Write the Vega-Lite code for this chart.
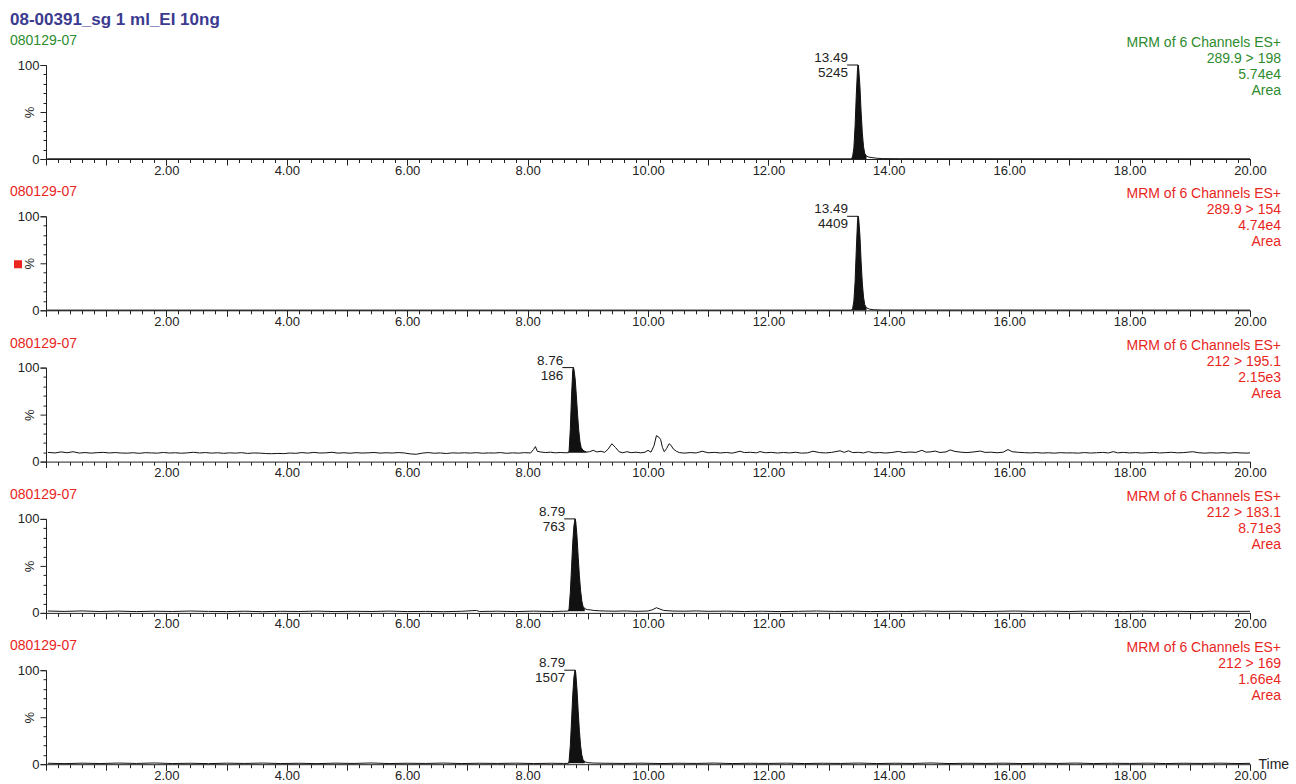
{
"$schema":"https://vega.github.io/schema/vega-lite/v6.json",
"padding":{"left":10,"top":11,"right":5,"bottom":5},
"title":{"text":"08-00391_sg 1 ml_EI 10ng","anchor":"start","color":"#3b3b8f","fontSize":17,"fontWeight":"bold","font":"Liberation Sans","offset":5},
"config":{"font":"Liberation Sans","view":{"stroke":null},
"axis":{"labelFont":"Liberation Sans","titleFont":"Liberation Sans","domainColor":"#222","tickColor":"#222","labelColor":"#222","titleColor":"#222","grid":false,"labelFontSize":13,"domainWidth":1,"tickWidth":1,"labelOverlap":false,"labelBound":false,"labelFlush":false},
"text":{"font":"Liberation Sans","fontSize":13,"color":"#222"}},
"datasets":{
"tr":[
{"p":1,"t":0.02,"v":0.2},{"p":1,"t":13.36,"v":0.2},{"p":1,"t":13.38,"v":0.3},{"p":1,"t":13.40,"v":3},{"p":1,"t":13.42,"v":12},{"p":1,"t":13.44,"v":35},{"p":1,"t":13.46,"v":68},{"p":1,"t":13.48,"v":95},{"p":1,"t":13.49,"v":100},{"p":1,"t":13.50,"v":96},{"p":1,"t":13.52,"v":78},{"p":1,"t":13.54,"v":50},{"p":1,"t":13.56,"v":28},{"p":1,"t":13.58,"v":13},{"p":1,"t":13.60,"v":6},{"p":1,"t":13.63,"v":3},{"p":1,"t":13.67,"v":2},{"p":1,"t":13.72,"v":1.5},{"p":1,"t":13.80,"v":0.8},{"p":1,"t":13.90,"v":0.4},{"p":1,"t":14.2,"v":0.3},{"p":1,"t":20.0,"v":0.2},
{"p":2,"t":0.02,"v":0.2},{"p":2,"t":13.38,"v":0.2},{"p":2,"t":13.40,"v":2},{"p":2,"t":13.42,"v":10},{"p":2,"t":13.44,"v":30},{"p":2,"t":13.46,"v":64},{"p":2,"t":13.48,"v":94},{"p":2,"t":13.49,"v":100},{"p":2,"t":13.50,"v":97},{"p":2,"t":13.52,"v":80},{"p":2,"t":13.54,"v":52},{"p":2,"t":13.56,"v":29},{"p":2,"t":13.58,"v":14},{"p":2,"t":13.60,"v":6},{"p":2,"t":13.63,"v":2.5},{"p":2,"t":13.68,"v":1.2},{"p":2,"t":13.75,"v":0.6},{"p":2,"t":13.9,"v":0.3},{"p":2,"t":20.0,"v":0.2},
{"p":3,"t":0.03,"v":9.8},{"p":3,"t":0.15,"v":9.2},{"p":3,"t":0.25,"v":10.3},{"p":3,"t":0.35,"v":9.4},{"p":3,"t":0.45,"v":10.5},{"p":3,"t":0.55,"v":9.1},{"p":3,"t":0.65,"v":9.6},{"p":3,"t":0.75,"v":9.0},{"p":3,"t":0.85,"v":9.5},{"p":3,"t":0.95,"v":9.8},{"p":3,"t":1.05,"v":9.2},{"p":3,"t":1.15,"v":9.6},{"p":3,"t":1.25,"v":9.1},{"p":3,"t":1.35,"v":9.0},{"p":3,"t":1.45,"v":9.4},{"p":3,"t":1.55,"v":8.8},{"p":3,"t":1.65,"v":9.5},{"p":3,"t":1.75,"v":9.2},{"p":3,"t":1.85,"v":9.0},{"p":3,"t":1.95,"v":9.7},{"p":3,"t":2.05,"v":9.1},{"p":3,"t":2.15,"v":9.4},{"p":3,"t":2.25,"v":8.9},{"p":3,"t":2.35,"v":9.3},{"p":3,"t":2.45,"v":9.9},{"p":3,"t":2.55,"v":9.2},{"p":3,"t":2.65,"v":9.6},{"p":3,"t":2.75,"v":9.0},{"p":3,"t":2.85,"v":9.4},{"p":3,"t":2.95,"v":8.8},{"p":3,"t":3.05,"v":9.3},{"p":3,"t":3.15,"v":9.0},{"p":3,"t":3.25,"v":9.5},{"p":3,"t":3.35,"v":8.7},{"p":3,"t":3.45,"v":9.2},{"p":3,"t":3.55,"v":9.0},{"p":3,"t":3.65,"v":8.6},{"p":3,"t":3.75,"v":8.4},{"p":3,"t":3.85,"v":8.7},{"p":3,"t":3.95,"v":8.5},{"p":3,"t":4.05,"v":9.1},{"p":3,"t":4.15,"v":8.8},{"p":3,"t":4.25,"v":9.6},{"p":3,"t":4.35,"v":9.0},{"p":3,"t":4.45,"v":9.8},{"p":3,"t":4.55,"v":9.1},{"p":3,"t":4.65,"v":9.3},{"p":3,"t":4.75,"v":9.9},{"p":3,"t":4.85,"v":9.0},{"p":3,"t":4.95,"v":9.4},{"p":3,"t":5.05,"v":8.9},{"p":3,"t":5.15,"v":9.5},{"p":3,"t":5.25,"v":9.1},{"p":3,"t":5.35,"v":9.3},{"p":3,"t":5.45,"v":9.7},{"p":3,"t":5.55,"v":9.0},{"p":3,"t":5.65,"v":9.4},{"p":3,"t":5.75,"v":9.1},{"p":3,"t":5.85,"v":9.6},{"p":3,"t":5.95,"v":9.2},{"p":3,"t":6.05,"v":8.2},{"p":3,"t":6.15,"v":7.8},{"p":3,"t":6.25,"v":9.0},{"p":3,"t":6.35,"v":9.6},{"p":3,"t":6.45,"v":8.9},{"p":3,"t":6.55,"v":9.2},{"p":3,"t":6.65,"v":8.6},{"p":3,"t":6.75,"v":9.3},{"p":3,"t":6.85,"v":9.0},{"p":3,"t":6.95,"v":9.4},{"p":3,"t":7.05,"v":9.0},{"p":3,"t":7.15,"v":9.5},{"p":3,"t":7.25,"v":8.9},{"p":3,"t":7.35,"v":9.2},{"p":3,"t":7.45,"v":9.1},{"p":3,"t":7.55,"v":9.6},{"p":3,"t":7.65,"v":8.8},{"p":3,"t":7.75,"v":9.3},{"p":3,"t":7.85,"v":9.0},{"p":3,"t":7.95,"v":9.5},{"p":3,"t":8.05,"v":9.2},{"p":3,"t":8.10,"v":13.0},{"p":3,"t":8.13,"v":16.0},{"p":3,"t":8.16,"v":11.0},{"p":3,"t":8.22,"v":10.2},{"p":3,"t":8.30,"v":9.6},{"p":3,"t":8.38,"v":10.0},{"p":3,"t":8.46,"v":9.3},{"p":3,"t":8.54,"v":9.7},{"p":3,"t":8.62,"v":9.4},{"p":3,"t":8.68,"v":9.5},{"p":3,"t":8.69,"v":12},{"p":3,"t":8.71,"v":35},{"p":3,"t":8.73,"v":70},{"p":3,"t":8.75,"v":97},{"p":3,"t":8.76,"v":100},{"p":3,"t":8.77,"v":98},{"p":3,"t":8.79,"v":88},{"p":3,"t":8.81,"v":70},{"p":3,"t":8.83,"v":50},{"p":3,"t":8.85,"v":33},{"p":3,"t":8.87,"v":21},{"p":3,"t":8.89,"v":15},{"p":3,"t":8.92,"v":12},{"p":3,"t":8.95,"v":11},{"p":3,"t":8.98,"v":10.2},{"p":3,"t":9.03,"v":10.5},{"p":3,"t":9.09,"v":12.0},{"p":3,"t":9.15,"v":10.3},{"p":3,"t":9.22,"v":11.0},{"p":3,"t":9.28,"v":9.8},{"p":3,"t":9.34,"v":13.5},{"p":3,"t":9.40,"v":19.0},{"p":3,"t":9.46,"v":15.0},{"p":3,"t":9.52,"v":10.5},{"p":3,"t":9.58,"v":9.4},{"p":3,"t":9.65,"v":10.5},{"p":3,"t":9.72,"v":9.5},{"p":3,"t":9.80,"v":10.0},{"p":3,"t":9.88,"v":9.3},{"p":3,"t":9.95,"v":10.0},{"p":3,"t":10.00,"v":12.0},{"p":3,"t":10.05,"v":10.0},{"p":3,"t":10.10,"v":17.0},{"p":3,"t":10.14,"v":27.6},{"p":3,"t":10.18,"v":26.0},{"p":3,"t":10.21,"v":23.5},{"p":3,"t":10.24,"v":15.0},{"p":3,"t":10.27,"v":10.5},{"p":3,"t":10.31,"v":14.0},{"p":3,"t":10.35,"v":19.0},{"p":3,"t":10.38,"v":17.5},{"p":3,"t":10.42,"v":13.5},{"p":3,"t":10.47,"v":11.0},{"p":3,"t":10.52,"v":9.6},{"p":3,"t":10.60,"v":9.0},{"p":3,"t":10.70,"v":9.6},{"p":3,"t":10.80,"v":9.2},{"p":3,"t":10.90,"v":11.0},{"p":3,"t":11.00,"v":9.4},{"p":3,"t":11.10,"v":9.8},{"p":3,"t":11.20,"v":9.2},{"p":3,"t":11.30,"v":9.7},{"p":3,"t":11.40,"v":9.0},{"p":3,"t":11.53,"v":11.0},{"p":3,"t":11.60,"v":9.6},{"p":3,"t":11.70,"v":9.9},{"p":3,"t":11.80,"v":9.3},{"p":3,"t":11.86,"v":10.6},{"p":3,"t":11.95,"v":9.4},{"p":3,"t":12.05,"v":9.8},{"p":3,"t":12.15,"v":9.1},{"p":3,"t":12.25,"v":9.7},{"p":3,"t":12.35,"v":9.2},{"p":3,"t":12.45,"v":9.9},{"p":3,"t":12.55,"v":9.0},{"p":3,"t":12.65,"v":9.3},{"p":3,"t":12.74,"v":11.0},{"p":3,"t":12.85,"v":9.6},{"p":3,"t":12.95,"v":9.2},{"p":3,"t":13.05,"v":9.8},{"p":3,"t":13.19,"v":11.5},{"p":3,"t":13.26,"v":9.8},{"p":3,"t":13.33,"v":11.5},{"p":3,"t":13.40,"v":9.6},{"p":3,"t":13.50,"v":9.9},{"p":3,"t":13.58,"v":9.2},{"p":3,"t":13.66,"v":10.6},{"p":3,"t":13.75,"v":9.3},{"p":3,"t":13.85,"v":9.6},{"p":3,"t":13.95,"v":9.1},{"p":3,"t":14.05,"v":9.7},{"p":3,"t":14.16,"v":10.8},{"p":3,"t":14.25,"v":9.6},{"p":3,"t":14.35,"v":10.2},{"p":3,"t":14.45,"v":9.8},{"p":3,"t":14.55,"v":12.0},{"p":3,"t":14.62,"v":10.0},{"p":3,"t":14.70,"v":10.4},{"p":3,"t":14.77,"v":11.2},{"p":3,"t":14.85,"v":9.7},{"p":3,"t":14.95,"v":10.3},{"p":3,"t":15.02,"v":12.4},{"p":3,"t":15.10,"v":10.8},{"p":3,"t":15.20,"v":10.0},{"p":3,"t":15.30,"v":9.6},{"p":3,"t":15.40,"v":10.2},{"p":3,"t":15.52,"v":11.2},{"p":3,"t":15.60,"v":9.8},{"p":3,"t":15.70,"v":10.0},{"p":3,"t":15.80,"v":9.4},{"p":3,"t":15.90,"v":10.0},{"p":3,"t":15.98,"v":12.8},{"p":3,"t":16.05,"v":10.5},{"p":3,"t":16.15,"v":9.9},{"p":3,"t":16.25,"v":9.5},{"p":3,"t":16.35,"v":9.2},{"p":3,"t":16.45,"v":9.6},{"p":3,"t":16.55,"v":9.1},{"p":3,"t":16.65,"v":9.4},{"p":3,"t":16.75,"v":9.0},{"p":3,"t":16.85,"v":9.5},{"p":3,"t":16.95,"v":9.2},{"p":3,"t":17.05,"v":9.3},{"p":3,"t":17.15,"v":9.0},{"p":3,"t":17.25,"v":9.6},{"p":3,"t":17.35,"v":9.1},{"p":3,"t":17.45,"v":9.4},{"p":3,"t":17.55,"v":9.8},{"p":3,"t":17.65,"v":9.2},{"p":3,"t":17.73,"v":10.6},{"p":3,"t":17.80,"v":9.3},{"p":3,"t":17.90,"v":9.8},{"p":3,"t":18.00,"v":9.2},{"p":3,"t":18.10,"v":9.6},{"p":3,"t":18.20,"v":9.1},{"p":3,"t":18.30,"v":9.4},{"p":3,"t":18.40,"v":9.8},{"p":3,"t":18.50,"v":9.2},{"p":3,"t":18.60,"v":9.5},{"p":3,"t":18.70,"v":9.9},{"p":3,"t":18.80,"v":9.3},{"p":3,"t":18.90,"v":9.6},{"p":3,"t":19.05,"v":10.5},{"p":3,"t":19.15,"v":9.4},{"p":3,"t":19.25,"v":9.0},{"p":3,"t":19.35,"v":9.4},{"p":3,"t":19.45,"v":9.1},{"p":3,"t":19.55,"v":9.5},{"p":3,"t":19.65,"v":9.0},{"p":3,"t":19.75,"v":9.6},{"p":3,"t":19.85,"v":9.2},{"p":3,"t":19.95,"v":9.0},{"p":3,"t":20.0,"v":9.3},
{"p":4,"t":0.03,"v":2.0},{"p":4,"t":0.3,"v":1.6},{"p":4,"t":0.6,"v":2.1},{"p":4,"t":0.9,"v":1.5},{"p":4,"t":1.2,"v":1.9},{"p":4,"t":1.5,"v":1.4},{"p":4,"t":1.8,"v":1.8},{"p":4,"t":2.1,"v":1.5},{"p":4,"t":2.4,"v":2.0},{"p":4,"t":2.7,"v":1.6},{"p":4,"t":3.0,"v":1.4},{"p":4,"t":3.3,"v":1.8},{"p":4,"t":3.6,"v":1.3},{"p":4,"t":3.9,"v":1.7},{"p":4,"t":4.2,"v":1.5},{"p":4,"t":4.5,"v":1.9},{"p":4,"t":4.8,"v":1.4},{"p":4,"t":5.1,"v":1.7},{"p":4,"t":5.4,"v":1.5},{"p":4,"t":5.7,"v":1.9},{"p":4,"t":6.0,"v":1.4},{"p":4,"t":6.3,"v":1.6},{"p":4,"t":6.6,"v":1.3},{"p":4,"t":6.9,"v":1.7},{"p":4,"t":7.15,"v":2.6},{"p":4,"t":7.2,"v":1.5},{"p":4,"t":7.5,"v":1.8},{"p":4,"t":7.8,"v":1.4},{"p":4,"t":8.1,"v":1.9},{"p":4,"t":8.4,"v":1.5},{"p":4,"t":8.6,"v":1.8},{"p":4,"t":8.68,"v":2.0},{"p":4,"t":8.69,"v":5},{"p":4,"t":8.71,"v":22},{"p":4,"t":8.73,"v":48},{"p":4,"t":8.75,"v":75},{"p":4,"t":8.77,"v":93},{"p":4,"t":8.79,"v":100},{"p":4,"t":8.80,"v":97},{"p":4,"t":8.82,"v":82},{"p":4,"t":8.84,"v":60},{"p":4,"t":8.86,"v":40},{"p":4,"t":8.88,"v":24},{"p":4,"t":8.90,"v":13},{"p":4,"t":8.92,"v":7},{"p":4,"t":8.95,"v":4.5},{"p":4,"t":8.99,"v":3.5},{"p":4,"t":9.04,"v":3.2},{"p":4,"t":9.10,"v":2.6},{"p":4,"t":9.2,"v":2.2},{"p":4,"t":9.3,"v":2.0},{"p":4,"t":9.45,"v":1.8},{"p":4,"t":9.6,"v":2.1},{"p":4,"t":9.8,"v":1.7},{"p":4,"t":10.0,"v":2.0},{"p":4,"t":10.08,"v":3.5},{"p":4,"t":10.14,"v":5.5},{"p":4,"t":10.20,"v":4.0},{"p":4,"t":10.26,"v":2.6},{"p":4,"t":10.4,"v":2.0},{"p":4,"t":10.6,"v":1.8},{"p":4,"t":10.8,"v":2.1},{"p":4,"t":11.0,"v":1.7},{"p":4,"t":11.3,"v":1.9},{"p":4,"t":11.6,"v":1.5},{"p":4,"t":11.9,"v":1.8},{"p":4,"t":12.2,"v":1.4},{"p":4,"t":12.5,"v":1.7},{"p":4,"t":12.8,"v":2.0},{"p":4,"t":13.1,"v":1.6},{"p":4,"t":13.4,"v":1.8},{"p":4,"t":13.7,"v":1.4},{"p":4,"t":14.0,"v":1.7},{"p":4,"t":14.3,"v":1.5},{"p":4,"t":14.6,"v":1.9},{"p":4,"t":14.9,"v":1.6},{"p":4,"t":15.2,"v":1.8},{"p":4,"t":15.5,"v":1.4},{"p":4,"t":15.8,"v":1.7},{"p":4,"t":16.1,"v":2.0},{"p":4,"t":16.4,"v":1.6},{"p":4,"t":16.7,"v":1.8},{"p":4,"t":17.0,"v":1.5},{"p":4,"t":17.3,"v":1.9},{"p":4,"t":17.6,"v":1.6},{"p":4,"t":17.9,"v":1.4},{"p":4,"t":18.2,"v":1.8},{"p":4,"t":18.5,"v":1.5},{"p":4,"t":18.8,"v":1.7},{"p":4,"t":19.1,"v":1.4},{"p":4,"t":19.4,"v":1.8},{"p":4,"t":19.7,"v":1.6},{"p":4,"t":20.0,"v":1.7},
{"p":5,"t":0.03,"v":1.0},{"p":5,"t":0.3,"v":0.6},{"p":5,"t":0.6,"v":1.1},{"p":5,"t":0.9,"v":0.7},{"p":5,"t":1.2,"v":1.2},{"p":5,"t":1.5,"v":0.8},{"p":5,"t":1.8,"v":1.3},{"p":5,"t":2.1,"v":0.7},{"p":5,"t":2.4,"v":1.0},{"p":5,"t":2.7,"v":0.6},{"p":5,"t":3.0,"v":1.1},{"p":5,"t":3.3,"v":0.8},{"p":5,"t":3.6,"v":1.2},{"p":5,"t":3.9,"v":0.7},{"p":5,"t":4.2,"v":1.0},{"p":5,"t":4.5,"v":0.6},{"p":5,"t":4.8,"v":1.1},{"p":5,"t":5.1,"v":0.8},{"p":5,"t":5.4,"v":1.3},{"p":5,"t":5.7,"v":0.7},{"p":5,"t":6.0,"v":1.0},{"p":5,"t":6.3,"v":0.8},{"p":5,"t":6.6,"v":1.2},{"p":5,"t":6.9,"v":0.7},{"p":5,"t":7.2,"v":1.0},{"p":5,"t":7.5,"v":0.8},{"p":5,"t":7.8,"v":1.1},{"p":5,"t":8.1,"v":0.7},{"p":5,"t":8.4,"v":1.0},{"p":5,"t":8.6,"v":0.8},{"p":5,"t":8.68,"v":0.9},{"p":5,"t":8.69,"v":4},{"p":5,"t":8.71,"v":20},{"p":5,"t":8.73,"v":46},{"p":5,"t":8.75,"v":74},{"p":5,"t":8.77,"v":93},{"p":5,"t":8.79,"v":100},{"p":5,"t":8.80,"v":97},{"p":5,"t":8.82,"v":80},{"p":5,"t":8.84,"v":57},{"p":5,"t":8.86,"v":36},{"p":5,"t":8.88,"v":20},{"p":5,"t":8.90,"v":10},{"p":5,"t":8.92,"v":5},{"p":5,"t":8.95,"v":2.5},{"p":5,"t":9.0,"v":1.6},{"p":5,"t":9.1,"v":1.2},{"p":5,"t":9.3,"v":1.0},{"p":5,"t":9.6,"v":0.8},{"p":5,"t":9.9,"v":1.1},{"p":5,"t":10.2,"v":0.7},{"p":5,"t":10.5,"v":1.0},{"p":5,"t":10.8,"v":0.8},{"p":5,"t":11.1,"v":1.2},{"p":5,"t":11.4,"v":0.7},{"p":5,"t":11.7,"v":1.0},{"p":5,"t":12.0,"v":0.8},{"p":5,"t":12.3,"v":1.1},{"p":5,"t":12.6,"v":0.7},{"p":5,"t":12.9,"v":1.0},{"p":5,"t":13.2,"v":0.8},{"p":5,"t":13.5,"v":1.2},{"p":5,"t":13.8,"v":0.7},{"p":5,"t":14.1,"v":1.0},{"p":5,"t":14.4,"v":0.8},{"p":5,"t":14.7,"v":1.3},{"p":5,"t":15.0,"v":0.7},{"p":5,"t":15.3,"v":1.0},{"p":5,"t":15.6,"v":0.8},{"p":5,"t":15.9,"v":1.1},{"p":5,"t":16.2,"v":0.7},{"p":5,"t":16.5,"v":1.0},{"p":5,"t":16.8,"v":0.8},{"p":5,"t":17.1,"v":1.2},{"p":5,"t":17.4,"v":0.7},{"p":5,"t":17.7,"v":1.0},{"p":5,"t":18.0,"v":0.8},{"p":5,"t":18.3,"v":1.1},{"p":5,"t":18.6,"v":0.7},{"p":5,"t":18.9,"v":1.0},{"p":5,"t":19.2,"v":0.8},{"p":5,"t":19.5,"v":1.1},{"p":5,"t":19.8,"v":0.7},{"p":5,"t":20.0,"v":0.9}
],
"pk":[
{"p":1,"t":13.49,"v":100,"rt":"13.49","h":"5245"},
{"p":2,"t":13.49,"v":100,"rt":"13.49","h":"4409"},
{"p":3,"t":8.76,"v":100,"rt":"8.76","h":"186"},
{"p":4,"t":8.79,"v":100,"rt":"8.79","h":"763"},
{"p":5,"t":8.79,"v":100,"rt":"8.79","h":"1507"}
],
"info":[
{"p":1,"id":"080129-07","r":["MRM of 6 Channels ES+","289.9 > 198","5.74e4","Area"]},
{"p":2,"id":"080129-07","r":["MRM of 6 Channels ES+","289.9 > 154","4.74e4","Area"]},
{"p":3,"id":"080129-07","r":["MRM of 6 Channels ES+","212 > 195.1","2.15e3","Area"]},
{"p":4,"id":"080129-07","r":["MRM of 6 Channels ES+","212 > 183.1","8.71e3","Area"]},
{"p":5,"id":"080129-07","r":["MRM of 6 Channels ES+","212 > 169","1.66e4","Area"]}
]
},
"spacing":57.3,
"bounds":"flush",
"vconcat":[
{"width":1204,"height":94,"resolve":{"axis":{"x":"independent","y":"independent"}},"layer":[
{"data":{"name":"tr"},"transform":[{"filter":"datum.p==1"}],"mark":{"type":"line","color":"#111","strokeWidth":1},
"encoding":{"x":{"field":"t","type":"quantitative","scale":{"domain":[0,20],"nice":false,"zero":false},"axis":{"orient":"bottom","title":null,"values":[2,4,6,8,10,12,14,16,18,20],"tickSize":6,"labelExpr":"format(datum.value, '.2f')","labelPadding":-1}},
"y":{"field":"v","type":"quantitative","scale":{"domain":[0,100],"nice":false},"axis":{"orient":"left","title":"%","titleFontSize":13,"titleFontWeight":"normal","titleX":-10,"titleY":47,"values":[0,100],"tickSize":6,"labelPadding":1}}}},
{"data":{"name":"tr"},"transform":[{"filter":"datum.p==1"},{"filter":{"field":"t","range":[13.38,13.63]}}],"mark":{"type":"area","color":"#111"},"encoding":{"x":{"field":"t","type":"quantitative","axis":{"orient":"bottom","title":null,"labels":false,"domain":false,"values":[0,0.2,0.4,0.6,0.8,1,1.2,1.4,1.6,1.8,2,2.2,2.4,2.6,2.8,3,3.2,3.4,3.6,3.8,4,4.2,4.4,4.6,4.8,5,5.2,5.4,5.6,5.8,6,6.2,6.4,6.6,6.8,7,7.2,7.4,7.6,7.8,8,8.2,8.4,8.6,8.8,9,9.2,9.4,9.6,9.8,10,10.2,10.4,10.6,10.8,11,11.2,11.4,11.6,11.8,12,12.2,12.4,12.6,12.8,13,13.2,13.4,13.6,13.8,14,14.2,14.4,14.6,14.8,15,15.2,15.4,15.6,15.8,16,16.2,16.4,16.6,16.8,17,17.2,17.4,17.6,17.8,18,18.2,18.4,18.6,18.8,19,19.2,19.4,19.6,19.8,20],"tickSize":{"condition":{"test":"datum.value % 1 === 0","value":6},"value":3.5}}},"y":{"field":"v","type":"quantitative","axis":{"orient":"left","title":null,"labels":false,"domain":false,"values":[0,10,20,30,40,50,60,70,80,90,100],"tickSize":{"condition":{"test":"datum.value % 50 === 0","value":6},"value":3}}},"y2":{"datum":0}}},
{"data":{"name":"pk"},"transform":[{"filter":"datum.p==1"}],"mark":{"type":"rule","color":"#111","strokeWidth":1,"xOffset":-11},"encoding":{"x":{"field":"t","type":"quantitative","axis":null},"x2":{"field":"t"},"y":{"field":"v","type":"quantitative","axis":null}}},
{"data":{"name":"pk"},"transform":[{"filter":"datum.p==1"}],"mark":{"type":"rule","color":"#111","strokeWidth":1,"y2Offset":7},"encoding":{"x":{"field":"t","type":"quantitative","axis":null},"y":{"field":"v","type":"quantitative","axis":null},"y2":{"field":"v"}}},
{"data":{"name":"pk"},"transform":[{"filter":"datum.p==1"}],"mark":{"type":"text","align":"right","baseline":"middle","dx":-10,"dy":-7,"fontSize":13.5},"encoding":{"x":{"field":"t","type":"quantitative","axis":null},"y":{"field":"v","type":"quantitative","axis":null},"text":{"field":"rt"}}},
{"data":{"name":"pk"},"transform":[{"filter":"datum.p==1"}],"mark":{"type":"text","align":"right","baseline":"middle","dx":-10,"dy":8,"fontSize":13.5},"encoding":{"x":{"field":"t","type":"quantitative","axis":null},"y":{"field":"v","type":"quantitative","axis":null},"text":{"field":"h"}}},
{"data":{"name":"info"},"transform":[{"filter":"datum.p==1"}],"mark":{"type":"text","align":"left","baseline":"middle","dx":-36,"dy":-24,"fontSize":14,"color":"#2e8b2e"},"encoding":{"x":{"datum":0,"axis":null},"y":{"datum":100,"axis":null},"text":{"field":"id"}}},
{"data":{"name":"info"},"transform":[{"filter":"datum.p==1"}],"mark":{"type":"text","align":"right","baseline":"top","dx":31,"dy":-29,"fontSize":14,"lineHeight":16,"color":"#2e8b2e"},"encoding":{"x":{"datum":20,"axis":null},"y":{"datum":100,"axis":null},"text":{"field":"r"}}}
]},
{"width":1204,"height":94,"resolve":{"axis":{"x":"independent","y":"independent"}},"layer":[
{"data":{"name":"tr"},"transform":[{"filter":"datum.p==2"}],"mark":{"type":"line","color":"#111","strokeWidth":1},
"encoding":{"x":{"field":"t","type":"quantitative","scale":{"domain":[0,20],"nice":false,"zero":false},"axis":{"orient":"bottom","title":null,"values":[2,4,6,8,10,12,14,16,18,20],"tickSize":6,"labelExpr":"format(datum.value, '.2f')","labelPadding":-1}},
"y":{"field":"v","type":"quantitative","scale":{"domain":[0,100],"nice":false},"axis":{"orient":"left","title":"%","titleFontSize":13,"titleFontWeight":"normal","titleX":-10,"titleY":47,"values":[0,100],"tickSize":6,"labelPadding":1}}}},
{"data":{"name":"tr"},"transform":[{"filter":"datum.p==2"},{"filter":{"field":"t","range":[13.38,13.63]}}],"mark":{"type":"area","color":"#111"},"encoding":{"x":{"field":"t","type":"quantitative","axis":{"orient":"bottom","title":null,"labels":false,"domain":false,"values":[0,0.2,0.4,0.6,0.8,1,1.2,1.4,1.6,1.8,2,2.2,2.4,2.6,2.8,3,3.2,3.4,3.6,3.8,4,4.2,4.4,4.6,4.8,5,5.2,5.4,5.6,5.8,6,6.2,6.4,6.6,6.8,7,7.2,7.4,7.6,7.8,8,8.2,8.4,8.6,8.8,9,9.2,9.4,9.6,9.8,10,10.2,10.4,10.6,10.8,11,11.2,11.4,11.6,11.8,12,12.2,12.4,12.6,12.8,13,13.2,13.4,13.6,13.8,14,14.2,14.4,14.6,14.8,15,15.2,15.4,15.6,15.8,16,16.2,16.4,16.6,16.8,17,17.2,17.4,17.6,17.8,18,18.2,18.4,18.6,18.8,19,19.2,19.4,19.6,19.8,20],"tickSize":{"condition":{"test":"datum.value % 1 === 0","value":6},"value":3.5}}},"y":{"field":"v","type":"quantitative","axis":{"orient":"left","title":null,"labels":false,"domain":false,"values":[0,10,20,30,40,50,60,70,80,90,100],"tickSize":{"condition":{"test":"datum.value % 50 === 0","value":6},"value":3}}},"y2":{"datum":0}}},
{"data":{"name":"pk"},"transform":[{"filter":"datum.p==2"}],"mark":{"type":"rule","color":"#111","strokeWidth":1,"xOffset":-11},"encoding":{"x":{"field":"t","type":"quantitative","axis":null},"x2":{"field":"t"},"y":{"field":"v","type":"quantitative","axis":null}}},
{"data":{"name":"pk"},"transform":[{"filter":"datum.p==2"}],"mark":{"type":"rule","color":"#111","strokeWidth":1,"y2Offset":7},"encoding":{"x":{"field":"t","type":"quantitative","axis":null},"y":{"field":"v","type":"quantitative","axis":null},"y2":{"field":"v"}}},
{"data":{"name":"pk"},"transform":[{"filter":"datum.p==2"}],"mark":{"type":"text","align":"right","baseline":"middle","dx":-10,"dy":-7,"fontSize":13.5},"encoding":{"x":{"field":"t","type":"quantitative","axis":null},"y":{"field":"v","type":"quantitative","axis":null},"text":{"field":"rt"}}},
{"data":{"name":"pk"},"transform":[{"filter":"datum.p==2"}],"mark":{"type":"text","align":"right","baseline":"middle","dx":-10,"dy":8,"fontSize":13.5},"encoding":{"x":{"field":"t","type":"quantitative","axis":null},"y":{"field":"v","type":"quantitative","axis":null},"text":{"field":"h"}}},
{"data":{"name":"info"},"transform":[{"filter":"datum.p==2"}],"mark":{"type":"text","align":"left","baseline":"middle","dx":-36,"dy":-24,"fontSize":14,"color":"#e8261e"},"encoding":{"x":{"datum":0,"axis":null},"y":{"datum":100,"axis":null},"text":{"field":"id"}}},
{"data":{"name":"info"},"transform":[{"filter":"datum.p==2"}],"mark":{"type":"text","align":"right","baseline":"top","dx":31,"dy":-29,"fontSize":14,"lineHeight":16,"color":"#e8261e"},"encoding":{"x":{"datum":20,"axis":null},"y":{"datum":100,"axis":null},"text":{"field":"r"}}},
{"data":{"name":"info"},"transform":[{"filter":"datum.p==2"}],"mark":{"type":"point","shape":"square","filled":true,"size":64,"color":"#e8261e","opacity":1},"encoding":{"x":{"datum":-0.465,"axis":null},"y":{"datum":49,"axis":null}}}
]},
{"width":1204,"height":94,"resolve":{"axis":{"x":"independent","y":"independent"}},"layer":[
{"data":{"name":"tr"},"transform":[{"filter":"datum.p==3"}],"mark":{"type":"line","color":"#111","strokeWidth":1},
"encoding":{"x":{"field":"t","type":"quantitative","scale":{"domain":[0,20],"nice":false,"zero":false},"axis":{"orient":"bottom","title":null,"values":[2,4,6,8,10,12,14,16,18,20],"tickSize":6,"labelExpr":"format(datum.value, '.2f')","labelPadding":-1}},
"y":{"field":"v","type":"quantitative","scale":{"domain":[0,100],"nice":false},"axis":{"orient":"left","title":"%","titleFontSize":13,"titleFontWeight":"normal","titleX":-10,"titleY":47,"values":[0,100],"tickSize":6,"labelPadding":1}}}},
{"data":{"name":"tr"},"transform":[{"filter":"datum.p==3"},{"filter":{"field":"t","range":[8.68,8.98]}}],"mark":{"type":"area","color":"#111"},"encoding":{"x":{"field":"t","type":"quantitative","axis":{"orient":"bottom","title":null,"labels":false,"domain":false,"values":[0,0.2,0.4,0.6,0.8,1,1.2,1.4,1.6,1.8,2,2.2,2.4,2.6,2.8,3,3.2,3.4,3.6,3.8,4,4.2,4.4,4.6,4.8,5,5.2,5.4,5.6,5.8,6,6.2,6.4,6.6,6.8,7,7.2,7.4,7.6,7.8,8,8.2,8.4,8.6,8.8,9,9.2,9.4,9.6,9.8,10,10.2,10.4,10.6,10.8,11,11.2,11.4,11.6,11.8,12,12.2,12.4,12.6,12.8,13,13.2,13.4,13.6,13.8,14,14.2,14.4,14.6,14.8,15,15.2,15.4,15.6,15.8,16,16.2,16.4,16.6,16.8,17,17.2,17.4,17.6,17.8,18,18.2,18.4,18.6,18.8,19,19.2,19.4,19.6,19.8,20],"tickSize":{"condition":{"test":"datum.value % 1 === 0","value":6},"value":3.5}}},"y":{"field":"v","type":"quantitative","axis":{"orient":"left","title":null,"labels":false,"domain":false,"values":[0,10,20,30,40,50,60,70,80,90,100],"tickSize":{"condition":{"test":"datum.value % 50 === 0","value":6},"value":3}}},"y2":{"datum":9.4}}},
{"data":{"name":"pk"},"transform":[{"filter":"datum.p==3"}],"mark":{"type":"rule","color":"#111","strokeWidth":1,"xOffset":-11},"encoding":{"x":{"field":"t","type":"quantitative","axis":null},"x2":{"field":"t"},"y":{"field":"v","type":"quantitative","axis":null}}},
{"data":{"name":"pk"},"transform":[{"filter":"datum.p==3"}],"mark":{"type":"rule","color":"#111","strokeWidth":1,"y2Offset":7},"encoding":{"x":{"field":"t","type":"quantitative","axis":null},"y":{"field":"v","type":"quantitative","axis":null},"y2":{"field":"v"}}},
{"data":{"name":"pk"},"transform":[{"filter":"datum.p==3"}],"mark":{"type":"text","align":"right","baseline":"middle","dx":-10,"dy":-7,"fontSize":13.5},"encoding":{"x":{"field":"t","type":"quantitative","axis":null},"y":{"field":"v","type":"quantitative","axis":null},"text":{"field":"rt"}}},
{"data":{"name":"pk"},"transform":[{"filter":"datum.p==3"}],"mark":{"type":"text","align":"right","baseline":"middle","dx":-10,"dy":8,"fontSize":13.5},"encoding":{"x":{"field":"t","type":"quantitative","axis":null},"y":{"field":"v","type":"quantitative","axis":null},"text":{"field":"h"}}},
{"data":{"name":"info"},"transform":[{"filter":"datum.p==3"}],"mark":{"type":"text","align":"left","baseline":"middle","dx":-36,"dy":-24,"fontSize":14,"color":"#e8261e"},"encoding":{"x":{"datum":0,"axis":null},"y":{"datum":100,"axis":null},"text":{"field":"id"}}},
{"data":{"name":"info"},"transform":[{"filter":"datum.p==3"}],"mark":{"type":"text","align":"right","baseline":"top","dx":31,"dy":-29,"fontSize":14,"lineHeight":16,"color":"#e8261e"},"encoding":{"x":{"datum":20,"axis":null},"y":{"datum":100,"axis":null},"text":{"field":"r"}}}
]},
{"width":1204,"height":94,"resolve":{"axis":{"x":"independent","y":"independent"}},"layer":[
{"data":{"name":"tr"},"transform":[{"filter":"datum.p==4"}],"mark":{"type":"line","color":"#111","strokeWidth":1},
"encoding":{"x":{"field":"t","type":"quantitative","scale":{"domain":[0,20],"nice":false,"zero":false},"axis":{"orient":"bottom","title":null,"values":[2,4,6,8,10,12,14,16,18,20],"tickSize":6,"labelExpr":"format(datum.value, '.2f')","labelPadding":-1}},
"y":{"field":"v","type":"quantitative","scale":{"domain":[0,100],"nice":false},"axis":{"orient":"left","title":"%","titleFontSize":13,"titleFontWeight":"normal","titleX":-10,"titleY":47,"values":[0,100],"tickSize":6,"labelPadding":1}}}},
{"data":{"name":"tr"},"transform":[{"filter":"datum.p==4"},{"filter":{"field":"t","range":[8.68,8.96]}}],"mark":{"type":"area","color":"#111"},"encoding":{"x":{"field":"t","type":"quantitative","axis":{"orient":"bottom","title":null,"labels":false,"domain":false,"values":[0,0.2,0.4,0.6,0.8,1,1.2,1.4,1.6,1.8,2,2.2,2.4,2.6,2.8,3,3.2,3.4,3.6,3.8,4,4.2,4.4,4.6,4.8,5,5.2,5.4,5.6,5.8,6,6.2,6.4,6.6,6.8,7,7.2,7.4,7.6,7.8,8,8.2,8.4,8.6,8.8,9,9.2,9.4,9.6,9.8,10,10.2,10.4,10.6,10.8,11,11.2,11.4,11.6,11.8,12,12.2,12.4,12.6,12.8,13,13.2,13.4,13.6,13.8,14,14.2,14.4,14.6,14.8,15,15.2,15.4,15.6,15.8,16,16.2,16.4,16.6,16.8,17,17.2,17.4,17.6,17.8,18,18.2,18.4,18.6,18.8,19,19.2,19.4,19.6,19.8,20],"tickSize":{"condition":{"test":"datum.value % 1 === 0","value":6},"value":3.5}}},"y":{"field":"v","type":"quantitative","axis":{"orient":"left","title":null,"labels":false,"domain":false,"values":[0,10,20,30,40,50,60,70,80,90,100],"tickSize":{"condition":{"test":"datum.value % 50 === 0","value":6},"value":3}}},"y2":{"datum":1.8}}},
{"data":{"name":"pk"},"transform":[{"filter":"datum.p==4"}],"mark":{"type":"rule","color":"#111","strokeWidth":1,"xOffset":-11},"encoding":{"x":{"field":"t","type":"quantitative","axis":null},"x2":{"field":"t"},"y":{"field":"v","type":"quantitative","axis":null}}},
{"data":{"name":"pk"},"transform":[{"filter":"datum.p==4"}],"mark":{"type":"rule","color":"#111","strokeWidth":1,"y2Offset":7},"encoding":{"x":{"field":"t","type":"quantitative","axis":null},"y":{"field":"v","type":"quantitative","axis":null},"y2":{"field":"v"}}},
{"data":{"name":"pk"},"transform":[{"filter":"datum.p==4"}],"mark":{"type":"text","align":"right","baseline":"middle","dx":-10,"dy":-7,"fontSize":13.5},"encoding":{"x":{"field":"t","type":"quantitative","axis":null},"y":{"field":"v","type":"quantitative","axis":null},"text":{"field":"rt"}}},
{"data":{"name":"pk"},"transform":[{"filter":"datum.p==4"}],"mark":{"type":"text","align":"right","baseline":"middle","dx":-10,"dy":8,"fontSize":13.5},"encoding":{"x":{"field":"t","type":"quantitative","axis":null},"y":{"field":"v","type":"quantitative","axis":null},"text":{"field":"h"}}},
{"data":{"name":"info"},"transform":[{"filter":"datum.p==4"}],"mark":{"type":"text","align":"left","baseline":"middle","dx":-36,"dy":-24,"fontSize":14,"color":"#e8261e"},"encoding":{"x":{"datum":0,"axis":null},"y":{"datum":100,"axis":null},"text":{"field":"id"}}},
{"data":{"name":"info"},"transform":[{"filter":"datum.p==4"}],"mark":{"type":"text","align":"right","baseline":"top","dx":31,"dy":-29,"fontSize":14,"lineHeight":16,"color":"#e8261e"},"encoding":{"x":{"datum":20,"axis":null},"y":{"datum":100,"axis":null},"text":{"field":"r"}}}
]},
{"width":1204,"height":94,"resolve":{"axis":{"x":"independent","y":"independent"}},"layer":[
{"data":{"name":"tr"},"transform":[{"filter":"datum.p==5"}],"mark":{"type":"line","color":"#111","strokeWidth":1},
"encoding":{"x":{"field":"t","type":"quantitative","scale":{"domain":[0,20],"nice":false,"zero":false},"axis":{"orient":"bottom","title":"Time","titleFontSize":14,"titleFontWeight":"normal","titleX":1212,"titleY":0,"titleAlign":"left","titleBaseline":"middle","values":[2,4,6,8,10,12,14,16,18,20],"tickSize":6,"labelExpr":"format(datum.value, '.2f')","labelPadding":-1}},
"y":{"field":"v","type":"quantitative","scale":{"domain":[0,100],"nice":false},"axis":{"orient":"left","title":"%","titleFontSize":13,"titleFontWeight":"normal","titleX":-10,"titleY":47,"values":[0,100],"tickSize":6,"labelPadding":1}}}},
{"data":{"name":"tr"},"transform":[{"filter":"datum.p==5"},{"filter":{"field":"t","range":[8.68,8.96]}}],"mark":{"type":"area","color":"#111"},"encoding":{"x":{"field":"t","type":"quantitative","axis":{"orient":"bottom","title":null,"labels":false,"domain":false,"values":[0,0.2,0.4,0.6,0.8,1,1.2,1.4,1.6,1.8,2,2.2,2.4,2.6,2.8,3,3.2,3.4,3.6,3.8,4,4.2,4.4,4.6,4.8,5,5.2,5.4,5.6,5.8,6,6.2,6.4,6.6,6.8,7,7.2,7.4,7.6,7.8,8,8.2,8.4,8.6,8.8,9,9.2,9.4,9.6,9.8,10,10.2,10.4,10.6,10.8,11,11.2,11.4,11.6,11.8,12,12.2,12.4,12.6,12.8,13,13.2,13.4,13.6,13.8,14,14.2,14.4,14.6,14.8,15,15.2,15.4,15.6,15.8,16,16.2,16.4,16.6,16.8,17,17.2,17.4,17.6,17.8,18,18.2,18.4,18.6,18.8,19,19.2,19.4,19.6,19.8,20],"tickSize":{"condition":{"test":"datum.value % 1 === 0","value":6},"value":3.5}}},"y":{"field":"v","type":"quantitative","axis":{"orient":"left","title":null,"labels":false,"domain":false,"values":[0,10,20,30,40,50,60,70,80,90,100],"tickSize":{"condition":{"test":"datum.value % 50 === 0","value":6},"value":3}}},"y2":{"datum":0.9}}},
{"data":{"name":"pk"},"transform":[{"filter":"datum.p==5"}],"mark":{"type":"rule","color":"#111","strokeWidth":1,"xOffset":-11},"encoding":{"x":{"field":"t","type":"quantitative","axis":null},"x2":{"field":"t"},"y":{"field":"v","type":"quantitative","axis":null}}},
{"data":{"name":"pk"},"transform":[{"filter":"datum.p==5"}],"mark":{"type":"rule","color":"#111","strokeWidth":1,"y2Offset":7},"encoding":{"x":{"field":"t","type":"quantitative","axis":null},"y":{"field":"v","type":"quantitative","axis":null},"y2":{"field":"v"}}},
{"data":{"name":"pk"},"transform":[{"filter":"datum.p==5"}],"mark":{"type":"text","align":"right","baseline":"middle","dx":-10,"dy":-7,"fontSize":13.5},"encoding":{"x":{"field":"t","type":"quantitative","axis":null},"y":{"field":"v","type":"quantitative","axis":null},"text":{"field":"rt"}}},
{"data":{"name":"pk"},"transform":[{"filter":"datum.p==5"}],"mark":{"type":"text","align":"right","baseline":"middle","dx":-10,"dy":8,"fontSize":13.5},"encoding":{"x":{"field":"t","type":"quantitative","axis":null},"y":{"field":"v","type":"quantitative","axis":null},"text":{"field":"h"}}},
{"data":{"name":"info"},"transform":[{"filter":"datum.p==5"}],"mark":{"type":"text","align":"left","baseline":"middle","dx":-36,"dy":-24,"fontSize":14,"color":"#e8261e"},"encoding":{"x":{"datum":0,"axis":null},"y":{"datum":100,"axis":null},"text":{"field":"id"}}},
{"data":{"name":"info"},"transform":[{"filter":"datum.p==5"}],"mark":{"type":"text","align":"right","baseline":"top","dx":31,"dy":-29,"fontSize":14,"lineHeight":16,"color":"#e8261e"},"encoding":{"x":{"datum":20,"axis":null},"y":{"datum":100,"axis":null},"text":{"field":"r"}}}
]}
]
}
